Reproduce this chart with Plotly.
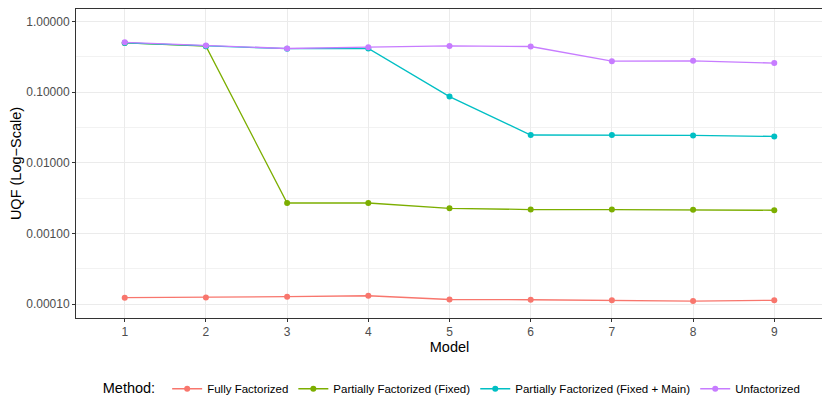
import plotly.graph_objects as go

# Data
models = [1, 2, 3, 4, 5, 6, 7, 8, 9]
methods = ['Fully Factorized', 'Partially Factorized (Fixed)',
           'Partially Factorized (Fixed + Main)', 'Unfactorized']
fully = [0.000123, 0.000124, 0.000127, 0.000131, 0.000116, 0.000115, 0.000113, 0.000110, 0.000113]
partial_fixed = [0.50, 0.45, 0.0027, 0.0027, 0.00227, 0.00218, 0.00218, 0.00216, 0.00213]
partial_main = [0.50, 0.45, 0.415, 0.417, 0.0869, 0.0248, 0.0248, 0.0245, 0.0237]
unfactorized = [0.51, 0.46, 0.417, 0.435, 0.454, 0.445, 0.276, 0.279, 0.259]

y_ticks = [1.0, 0.1, 0.01, 0.001, 0.0001]
y_ticktext = ['1.00000', '0.10000', '0.01000', '0.00100', '0.00010']
y_minor = [10 ** (-0.5), 10 ** (-1.5), 10 ** (-2.5), 10 ** (-3.5)]

colors = ['#F8766D', '#7CAE00', '#00BFC4', '#C77CFF']
series = [fully, partial_fixed, partial_main, unfactorized]

fig = go.Figure()
for name, vals, col in zip(methods, series, colors):
    fig.add_trace(go.Scatter(
        x=models, y=vals, name=name, mode='lines+markers',
        line=dict(color=col, width=1.3),
        marker=dict(color=col, size=6),
    ))

# the page puts the figure ~8px in from the top-left corner, so size it a bit smaller
font_family = 'Liberation Sans, Arial, sans-serif'
fig.update_layout(
    width=822, height=407,
    margin=dict(l=68, r=7, t=1, b=97, autoexpand=False),
    plot_bgcolor='white', paper_bgcolor='white',
    font=dict(family=font_family, color='black'),
    showlegend=True,
    legend=dict(
        orientation='h', x=0.505, xanchor='center', y=-0.229, yanchor='middle',
        title=dict(text='Method: ', font=dict(size=14.5), side='left'),
        font=dict(size=11.5, color='black'),
        itemwidth=30, tracegroupgap=0,
    ),
    xaxis=dict(
        title=dict(text='Model', font=dict(size=14.5), standoff=3),
        automargin=False,
        range=[0.4, 9.6], tickmode='array', tickvals=models,
        ticktext=[str(m) for m in models],
        tickfont=dict(size=12, color='#4D4D4D'),
        ticks='outside', ticklen=3, tickcolor='#333333',
        showgrid=True, gridcolor='#EBEBEB', gridwidth=1,
        zeroline=False, showline=True, linecolor='#333333', linewidth=1, mirror=True,
    ),
    yaxis=dict(
        title=dict(text='UQF (Log\u2212Scale)', font=dict(size=14.5), standoff=6),
        automargin=False,
        type='log', range=[-4.198, 0.180],
        tickmode='array', tickvals=y_ticks, ticktext=y_ticktext,
        tickfont=dict(size=12, color='#4D4D4D'),
        ticks='outside', ticklen=3, tickcolor='#333333',
        showgrid=True, gridcolor='#EBEBEB', gridwidth=1.2,
        minor=dict(tickmode='array', tickvals=y_minor, showgrid=True,
                   gridcolor='#F2F2F2', gridwidth=0.6, ticks=''),
        zeroline=False, showline=True, linecolor='#333333', linewidth=1, mirror=True,
    ),
)

fig.write_html('out.html')
